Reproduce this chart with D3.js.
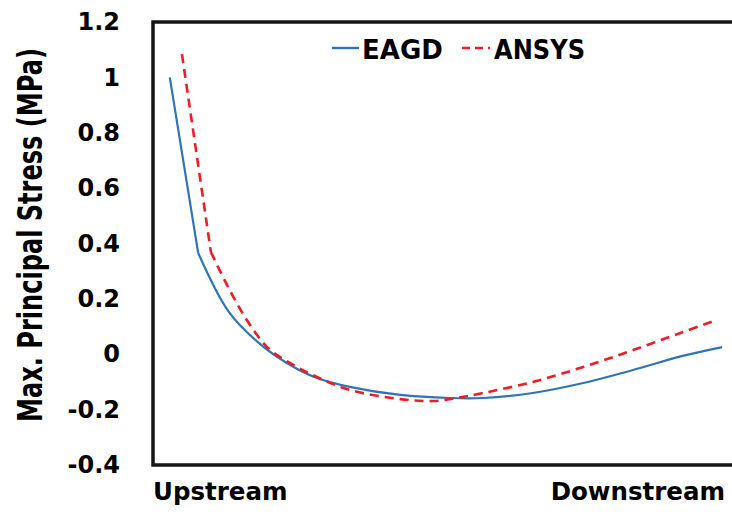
<!DOCTYPE html>
<html>
<head>
<meta charset="utf-8">
<script src="https://cdn.jsdelivr.net/npm/d3@7"></script>
<style>
	body { margin: 0; background: #fff; }
	text { font-family: 'DejaVu Sans', sans-serif; font-weight: bold; fill: #000; }
</style>
</head>
<body>
<svg id="chart" width="732" height="514"></svg>
<script>
// position along the dam base, 0 = upstream end, 1 = downstream end
const eagdPos = [0.029, 0.078, 0.13, 0.181, 0.237, 0.283, 0.34, 0.427, 0.513, 0.57, 0.656, 0.743, 0.829, 0.915, 0.983]
const eagdStress = [1.0, 0.366, 0.156, 0.044, -0.039, -0.086, -0.118, -0.147, -0.158, -0.158, -0.14, -0.104, -0.057, -0.006, 0.026]

const ansysPos = [0.05, 0.1, 0.128, 0.162, 0.199, 0.237, 0.283, 0.34, 0.427, 0.484, 0.525, 0.57, 0.656, 0.743, 0.829, 0.915, 0.974]
const ansysStress = [1.084, 0.369, 0.25, 0.124, 0.022, -0.032, -0.082, -0.129, -0.162, -0.169, -0.158, -0.14, -0.1, -0.046, 0.015, 0.08, 0.124]

const yTicks = [-0.4, -0.2, 0, 0.2, 0.4, 0.6, 0.8, 1, 1.2]
const xLabels = ['Upstream', 'Downstream']
const yTitle = 'Max. Principal Stress (MPa)'
const seriesNames = ['EAGD', 'ANSYS']

const blue = '#2e75b6'
const red = '#ee1c25'

const svg = d3.select('#chart')

const plot = { left: 153, top: 22, right: 732, bottom: 465 }

const x = d3.scaleLinear().domain([0, 1]).range([plot.left, plot.right])
const y = d3.scaleLinear().domain([-0.4, 1.2]).range([plot.bottom, plot.top])

// frame: left, top and bottom edges (right side runs off the picture)
svg.append('path')
	.attr('d', `M${plot.right + 5},${plot.top}H${plot.left}V${plot.bottom}H${plot.right + 5}`)
	.attr('fill', 'none')
	.attr('stroke', '#151515')
	.attr('stroke-width', 3.5)

// y axis labels only, no tick marks, plain hyphen for negatives
const yAxis = d3.axisLeft(y)
	.tickValues(yTicks)
	.tickSize(0)
	.tickPadding(0)
	.tickFormat(d => String(+d.toFixed(1)))

svg.append('g')
	.attr('transform', 'translate(120,0)')
	.call(yAxis)
	.call(g => g.select('.domain').remove())
	.selectAll('text')
	.attr('font-size', 24)
	.attr('font-family', null)

svg.append('text')
	.attr('transform', 'translate(42,235) rotate(-90) scale(1,1.4)')
	.attr('text-anchor', 'middle')
	.attr('font-size', 24)
	.attr('textLength', 374)
	.attr('lengthAdjust', 'spacingAndGlyphs')
	.text(yTitle)

svg.append('text')
	.attr('x', plot.left)
	.attr('y', 500)
	.attr('font-size', 24.5)
	.text(xLabels[0])

svg.append('text')
	.attr('x', 725)
	.attr('y', 500)
	.attr('text-anchor', 'end')
	.attr('font-size', 24.5)
	.text(xLabels[1])

const straight = d3.line()
	.x(d => x(d[0]))
	.y(d => y(d[1]))

const smooth = d3.line()
	.x(d => x(d[0]))
	.y(d => y(d[1]))
	.curve(d3.curveCatmullRom.alpha(0.5))

const eagd = d3.zip(eagdPos, eagdStress)
const ansys = d3.zip(ansysPos, ansysStress)

// steep first drop is straight, the rest is smoothed like the original
function drawSeries(data, style) {
	const g = svg.append('g')
		.attr('fill', 'none')
		.attr('stroke', style.color)
		.attr('stroke-width', style.width)
		.attr('stroke-dasharray', style.dash)
		.attr('stroke-linejoin', 'round')
	g.append('path').attr('d', straight(data.slice(0, 2)))
	g.append('path').attr('d', smooth(data.slice(1)))
}

drawSeries(eagd, { color: blue, width: 2.2, dash: null })
drawSeries(ansys, { color: red, width: 2.6, dash: '9,6' })

// legend
const legend = svg.append('g')

legend.append('line')
	.attr('x1', 332).attr('x2', 359)
	.attr('y1', 48).attr('y2', 48)
	.attr('stroke', blue)
	.attr('stroke-width', 2.4)

legend.append('text')
	.attr('x', 362)
	.attr('y', 59)
	.attr('font-size', 26)
	.text(seriesNames[0])

legend.append('line')
	.attr('x1', 462).attr('x2', 490)
	.attr('y1', 48).attr('y2', 48)
	.attr('stroke', red)
	.attr('stroke-width', 2.6)
	.attr('stroke-dasharray', '8,5')

legend.append('text')
	.attr('x', 494)
	.attr('y', 59)
	.attr('font-size', 26)
	.attr('textLength', 91)
	.attr('lengthAdjust', 'spacingAndGlyphs')
	.text(seriesNames[1])
</script>
</body>
</html>
